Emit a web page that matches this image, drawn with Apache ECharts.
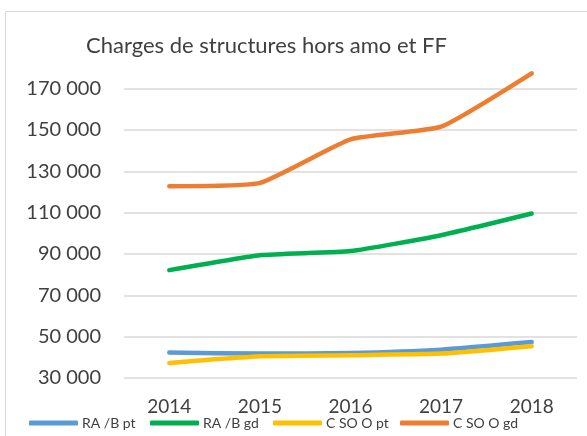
<!DOCTYPE html>
<html lang="fr">
<head>
    <meta charset="UTF-8">
    <title>Charges de structures hors amo et FF</title>
    <script src="https://cdn.jsdelivr.net/npm/echarts/dist/echarts.min.js"></script>
    <style>
        body { margin: 0; background: #fff; }
        #chart { width: 587px; height: 436px; }
    </style>
</head>
<body>
<div id="chart"></div>
<script>
    // données
    const annees = ['2014', '2015', '2016', '2017', '2018'];
    const nomsSeries = ['RA /B pt', 'RA /B gd', 'C SO O pt', 'C SO O gd'];
    const raBPt = [42300, 41800, 42100, 43700, 47400];
    const raBGd = [82200, 89400, 91400, 99100, 109600];
    const csooPt = [37300, 40500, 41000, 41800, 45400];
    const csooGd = [122800, 124400, 145500, 151600, 177400];
    const couleurs = ['#5B9BD5', '#00B050', '#FFC000', '#ED7D31'];
    const legendeX = [29, 150, 273, 400];

    const chart = echarts.init(document.getElementById('chart'));
    const police = 'Lato, "Open Sans", sans-serif';
    const texte = '#404040';

    function serie(nom, data, couleur) {
        return {
            name: nom,
            type: 'line',
            data: data,
            symbol: 'none',
            smooth: 0.15,
            itemStyle: { color: couleur },
            lineStyle: { width: 4.5, color: couleur, cap: 'round', join: 'round' }
        };
    }

    // une légende par série pour garder les positions de l'original
    const legendes = nomsSeries.map((nom, i) => ({
        data: [nom],
        left: legendeX[i],
        top: 416,
        padding: 0,
        icon: 'roundRect',
        itemWidth: 49,
        itemHeight: 5,
        textStyle: { fontFamily: police, fontSize: 14, color: texte, padding: [0, 0, 0, -1] }
    }));

    chart.setOption({
        animation: false,
        textStyle: { fontFamily: police },
        graphic: [{
            type: 'rect',
            shape: { x: 5.5, y: 11.5, width: 700, height: 700 },
            style: { fill: 'none', stroke: '#d9d9d9', lineWidth: 1 },
            silent: true
        }],
        title: {
            text: 'Charges de structures hors amo et FF',
            left: 86,
            top: 35,
            padding: 0,
            textStyle: { fontFamily: police, fontSize: 22, fontWeight: 'normal', color: texte }
        },
        legend: legendes,
        grid: { left: 124, right: 10, top: 68, bottom: 58 },
        xAxis: {
            type: 'category',
            data: annees,
            boundaryGap: true,
            axisLine: { show: false },
            axisTick: { show: false },
            axisLabel: { margin: 19, fontSize: 19, color: texte, fontFamily: police }
        },
        yAxis: {
            type: 'value',
            min: 30000,
            max: 180000,
            interval: 10000,
            axisLine: { show: false },
            axisTick: { show: false },
            axisLabel: {
                margin: 23,
                fontSize: 20,
                color: texte,
                fontFamily: police,
                formatter: function (v) {
                    if ((v - 30000) % 20000 !== 0 || v > 170000) return '';
                    return String(v).replace(/\B(?=(\d{3})+(?!\d))/g, ' ');
                }
            },
            splitLine: {
                lineStyle: { color: ['#d9d9d9', 'rgba(0,0,0,0)'], width: 1.5 }
            }
        },
        series: [
            serie(nomsSeries[0], raBPt, couleurs[0]),
            serie(nomsSeries[1], raBGd, couleurs[1]),
            serie(nomsSeries[2], csooPt, couleurs[2]),
            serie(nomsSeries[3], csooGd, couleurs[3])
        ]
    });
</script>
</body>
</html>
